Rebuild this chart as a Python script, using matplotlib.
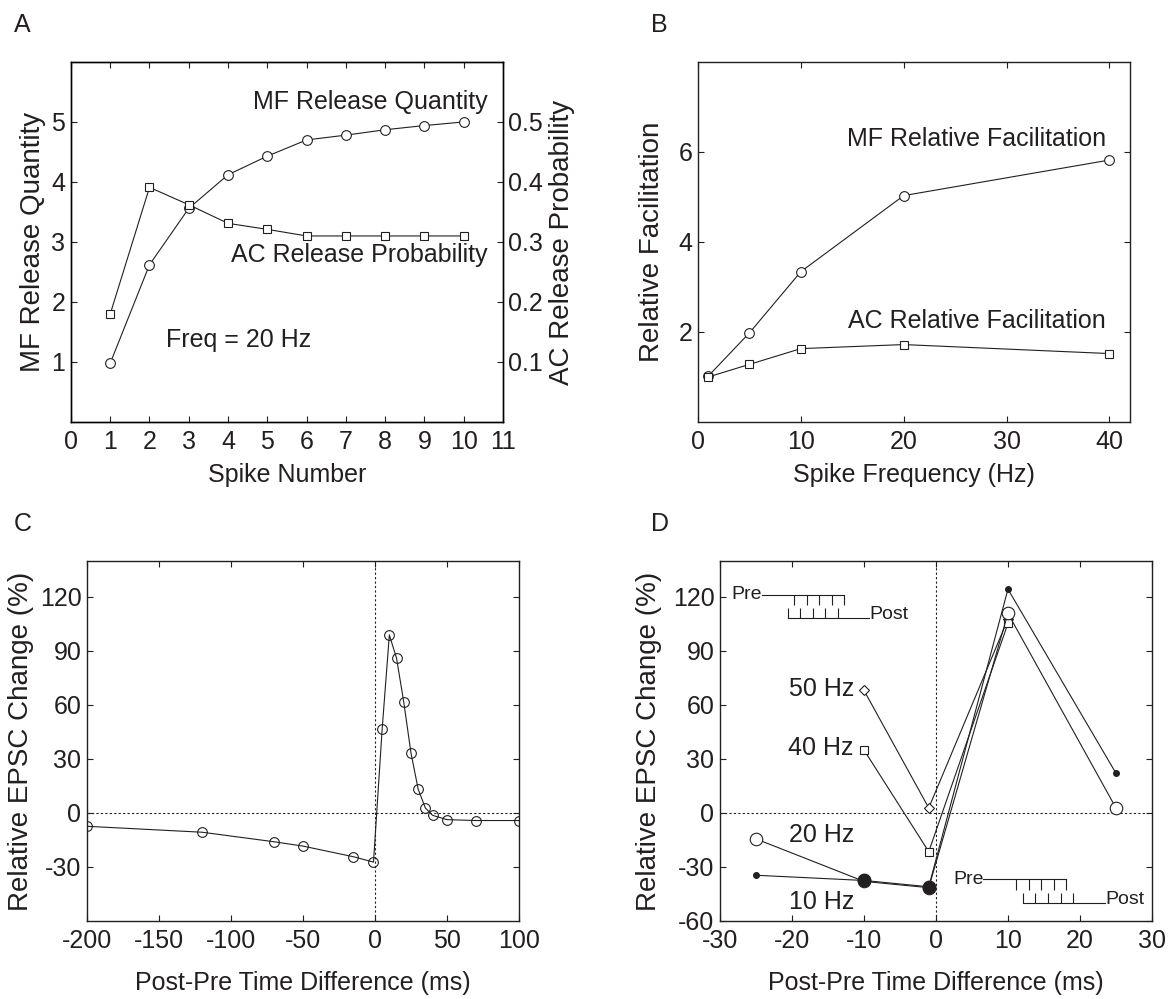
import numpy as np
import matplotlib
matplotlib.use("Agg")
import matplotlib.pyplot as plt

plt.rcParams['font.family'] = ['Liberation Sans', 'DejaVu Sans']
plt.rcParams['font.size'] = 18
plt.rcParams['axes.unicode_minus'] = False
plt.rcParams['axes.linewidth'] = 1.0
plt.rcParams['xtick.direction'] = 'in'
plt.rcParams['ytick.direction'] = 'in'
plt.rcParams['xtick.major.size'] = 4
plt.rcParams['ytick.major.size'] = 4
plt.rcParams['xtick.major.pad'] = 6
plt.rcParams['ytick.major.pad'] = 4

INK = '#231f20'
YLAB = 20

# panel A: release vs spike number (20 Hz)
spike_num = [1, 2, 3, 4, 5, 6, 7, 8, 9, 10]
mf_quantity = [0.98, 2.62, 3.56, 4.12, 4.43, 4.70, 4.78, 4.87, 4.94, 5.00]
ac_prob = [0.180, 0.391, 0.362, 0.331, 0.321, 0.310, 0.310, 0.310, 0.310, 0.310]

# panel B: relative facilitation vs frequency
freq_hz = [1, 5, 10, 20, 40]
mf_facil = [1.02, 1.98, 3.34, 5.03, 5.82]
ac_facil = [1.00, 1.28, 1.63, 1.72, 1.52]

# panel C: STDP curve
dt_c = [-200, -120, -70, -50, -15, -1, 5, 10, 15, 20, 25, 30, 35, 40, 50, 70, 100]
epsc_c = [-7.4, -10.7, -16.0, -18.4, -24.3, -27.3, 46.4, 98.9, 86.0, 61.7,
          33.5, 13.3, 2.8, -1.3, -3.7, -4.2, -4.2]

# panel D: STDP at several burst frequencies
dt_10 = [-25, -10, -1, 10, 25]
epsc_10 = [-34.6, -37.5, -41.0, 124.3, 22.1]
dt_20 = [-25, -10, -1, 10, 25]
epsc_20 = [-14.4, -38.0, -41.5, 110.9, 2.8]
dt_40 = [-10, -1, 10]
epsc_40 = [35.0, -21.5, 105.3]
dt_50 = [-10, -1, 10]
epsc_50 = [68.1, 2.8, 107.7]

# spike-train schematics in D
pre_ticks_top = [-19.7, -17.9, -16.25, -14.4, -12.8]
post_ticks_top = [-20.6, -18.9, -17.1, -15.4, -13.6]
pre_ticks_bot = [11.1, 12.9, 14.6, 16.4, 18.1]
post_ticks_bot = [12.1, 13.8, 15.6, 17.3, 19.0]


def box_axes(ax):
    ax.tick_params(top=True, right=True, colors=INK, labelcolor=INK)
    for s in ax.spines.values():
        s.set_color(INK)


def draw_train(ax, x0, x_pre_end, pre_ticks, y_pre, y_pre_tick,
               post_ticks, x_post_end, y_post, y_post_tick, fs=14):
    ax.plot([x0, x_pre_end], [y_pre, y_pre], color=INK, lw=0.8)
    ax.vlines(pre_ticks, y_pre_tick, y_pre, color=INK, lw=0.8)
    ax.plot([post_ticks[0], x_post_end], [y_post, y_post], color=INK, lw=0.8)
    ax.vlines(post_ticks, y_post, y_post_tick, color=INK, lw=0.8)
    ax.text(x0, y_pre, 'Pre', fontsize=fs, ha='right', va='center', color=INK)
    ax.text(x_post_end, y_post + 2, 'Post', fontsize=fs, ha='left', va='center', color=INK)


fig = plt.figure(figsize=(11.69, 9.99), dpi=100)

# ---------- A ----------
axA = fig.add_axes([0.0607, 0.5776, 0.3695, 0.3604])
axA.plot(spike_num, mf_quantity, color=INK, lw=0.8, marker='o', ms=7, mfc='white', mec=INK, mew=0.8)
axA.set_xlim(0, 11)
axA.set_ylim(0, 6)
axA.set_xticks(range(0, 12))
axA.set_yticks([1, 2, 3, 4, 5])
axA.set_xlabel('Spike Number', color=INK, labelpad=6)
axA.set_ylabel('MF Release Quantity', color=INK, fontsize=YLAB, labelpad=4)
box_axes(axA)
axA.tick_params(right=False)
axA2 = axA.twinx()
axA2.plot(spike_num, ac_prob, color=INK, lw=0.8, marker='s', ms=6, mfc='white', mec=INK, mew=0.8)
axA2.set_ylim(0, 0.6)
axA2.set_yticks([0.1, 0.2, 0.3, 0.4, 0.5])
axA2.set_yticklabels(['0.1', '0.2', '0.3', '0.4', '0.5'])
axA2.tick_params(direction='in', colors=INK, labelcolor=INK)
axA2.set_ylabel('AC Release Probability', color=INK, fontsize=YLAB, labelpad=4)
axA.text(10.6, 5.34, 'MF Release Quantity', ha='right', va='center', color=INK)
axA.text(10.6, 2.78, 'AC Release Probability', ha='right', va='center', color=INK)
axA.text(2.42, 1.37, 'Freq = 20 Hz', ha='left', va='center', color=INK)

# ---------- B ----------
axB = fig.add_axes([0.5971, 0.5776, 0.3695, 0.3604])
axB.plot(freq_hz, mf_facil, color=INK, lw=0.8, marker='o', ms=7, mfc='white', mec=INK, mew=0.8)
axB.plot(freq_hz, ac_facil, color=INK, lw=0.8, marker='s', ms=6, mfc='white', mec=INK, mew=0.8)
axB.set_xlim(0, 42)
axB.set_ylim(0, 8)
axB.set_xticks([0, 10, 20, 30, 40])
axB.set_yticks([2, 4, 6])
axB.set_xlabel('Spike Frequency (Hz)', color=INK, labelpad=6)
axB.set_ylabel('Relative Facilitation', color=INK, fontsize=YLAB, labelpad=10)
box_axes(axB)
axB.text(39.65, 6.28, 'MF Relative Facilitation', ha='right', va='center', color=INK)
axB.text(39.65, 2.24, 'AC Relative Facilitation', ha='right', va='center', color=INK)

# ---------- C ----------
axC = fig.add_axes([0.0744, 0.0781, 0.3695, 0.3604])
axC.axhline(0, color=INK, lw=0.8, ls=(0, (2, 2)))
axC.axvline(0, color=INK, lw=0.8, ls=(0, (2, 2)))
axC.plot(dt_c, epsc_c, color=INK, lw=0.8, marker='o', ms=7, mfc='none', mec=INK, mew=0.8)
axC.set_xlim(-200, 100)
axC.set_ylim(-60, 140)
axC.set_xticks([-200, -150, -100, -50, 0, 50, 100])
axC.set_yticks([-30, 0, 30, 60, 90, 120])
axC.set_xlabel('Post-Pre Time Difference (ms)', color=INK, labelpad=13)
axC.set_ylabel('Relative EPSC Change (%)', color=INK, fontsize=YLAB, labelpad=4)
box_axes(axC)

# ---------- D ----------
axD = fig.add_axes([0.6159, 0.0781, 0.3695, 0.3604])
axD.axhline(0, color=INK, lw=0.8, ls=(0, (2, 2)))
axD.axvline(0, color=INK, lw=0.8, ls=(0, (2, 2)))
axD.plot(dt_50, epsc_50, color=INK, lw=0.8, marker='D', ms=5, mfc='white', mec=INK, mew=0.8)
axD.plot(dt_40, epsc_40, color=INK, lw=0.8, marker='s', ms=6, mfc='white', mec=INK, mew=0.8)
axD.plot(dt_20, epsc_20, color=INK, lw=0.8, marker='o', ms=9, mfc='white', mec=INK, mew=0.8)
axD.plot(dt_10, epsc_10, color=INK, lw=0.8, marker='o', ms=4, mfc=INK, mec=INK)
axD.plot(dt_10[1:3], epsc_10[1:3], ls='none', marker='o', ms=9, mfc=INK, mec=INK)
axD.set_xlim(-30, 30)
axD.set_ylim(-60, 140)
axD.set_xticks([-30, -20, -10, 0, 10, 20, 30])
axD.set_yticks([-60, -30, 0, 30, 60, 90, 120])
axD.set_xlabel('Post-Pre Time Difference (ms)', color=INK, labelpad=13)
axD.set_ylabel('Relative EPSC Change (%)', color=INK, fontsize=YLAB, labelpad=8)
box_axes(axD)
axD.text(-11.4, 69, '50 Hz', ha='right', va='center', color=INK)
axD.text(-11.4, 36, '40 Hz', ha='right', va='center', color=INK)
axD.text(-11.4, -12, '20 Hz', ha='right', va='center', color=INK)
axD.text(-11.4, -49.7, '10 Hz', ha='right', va='center', color=INK)
draw_train(axD, -24.2, -12.8, pre_ticks_top, 121.3, 115.7,
           post_ticks_top, -9.3, 108.3, 113.9)
draw_train(axD, 6.6, 18.1, pre_ticks_bot, -36.8, -42.8,
           post_ticks_bot, 23.5, -50.2, -44.4)

# panel letters
for lab, x, y in [('A', 0.012, 0.975), ('B', 0.557, 0.975),
                  ('C', 0.012, 0.475), ('D', 0.557, 0.475)]:
    fig.text(x, y, lab, fontsize=18, color=INK, ha='left', va='center')

fig.savefig('out.png', dpi=100)
